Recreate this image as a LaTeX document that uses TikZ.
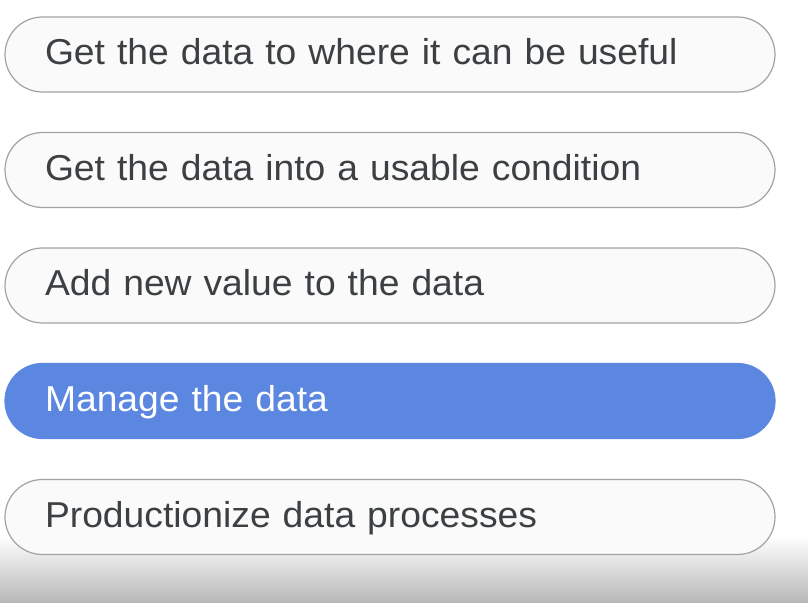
\documentclass[tikz,border=0pt]{standalone}
\usepackage{fontspec}
\setmainfont{Liberation Sans}
\definecolor{pillline}{HTML}{A2A2A2}
\definecolor{pillfill}{HTML}{FAFAFA}
\definecolor{pilltext}{HTML}{3C4043}
\definecolor{pillblue}{HTML}{5B87E1}
\begin{document}
\begin{tikzpicture}[x=1pt,y=-1pt,
  pill/.style={draw=pillline, line width=1.2pt, fill=pillfill, text=pilltext,
    rounded corners=37.5pt, minimum width=770pt, minimum height=75pt,
    inner xsep=40pt, inner ysep=0pt, text width=690pt, align=left,
    text height=26pt, text depth=6pt,
    font=\fontsize{36}{40}\selectfont\addfontfeature{FakeStretch=1.035}},
  pillon/.style={pill, draw=pillblue, fill=pillblue, text=white}]
\useasboundingbox (0,0) rectangle (808,602);
\fill[white] (0,0) rectangle (808,602);

% shadow at the bottom
\shade[top color=white, bottom color=black!28] (0,536) rectangle (808,602);

\node[pill]   (useful)  at (390,54.5) {Get the data to where it can be useful};
\node[pill]   (usable)  at (390,170)  {Get the data into a usable condition};
\node[pill]   (value)   at (390,285.5){Add new value to the data};
\node[pillon] (manage)  at (390,401)  {Manage the data};
\node[pill]   (product) at (390,517)  {Productionize data processes};
\end{tikzpicture}
\end{document}
